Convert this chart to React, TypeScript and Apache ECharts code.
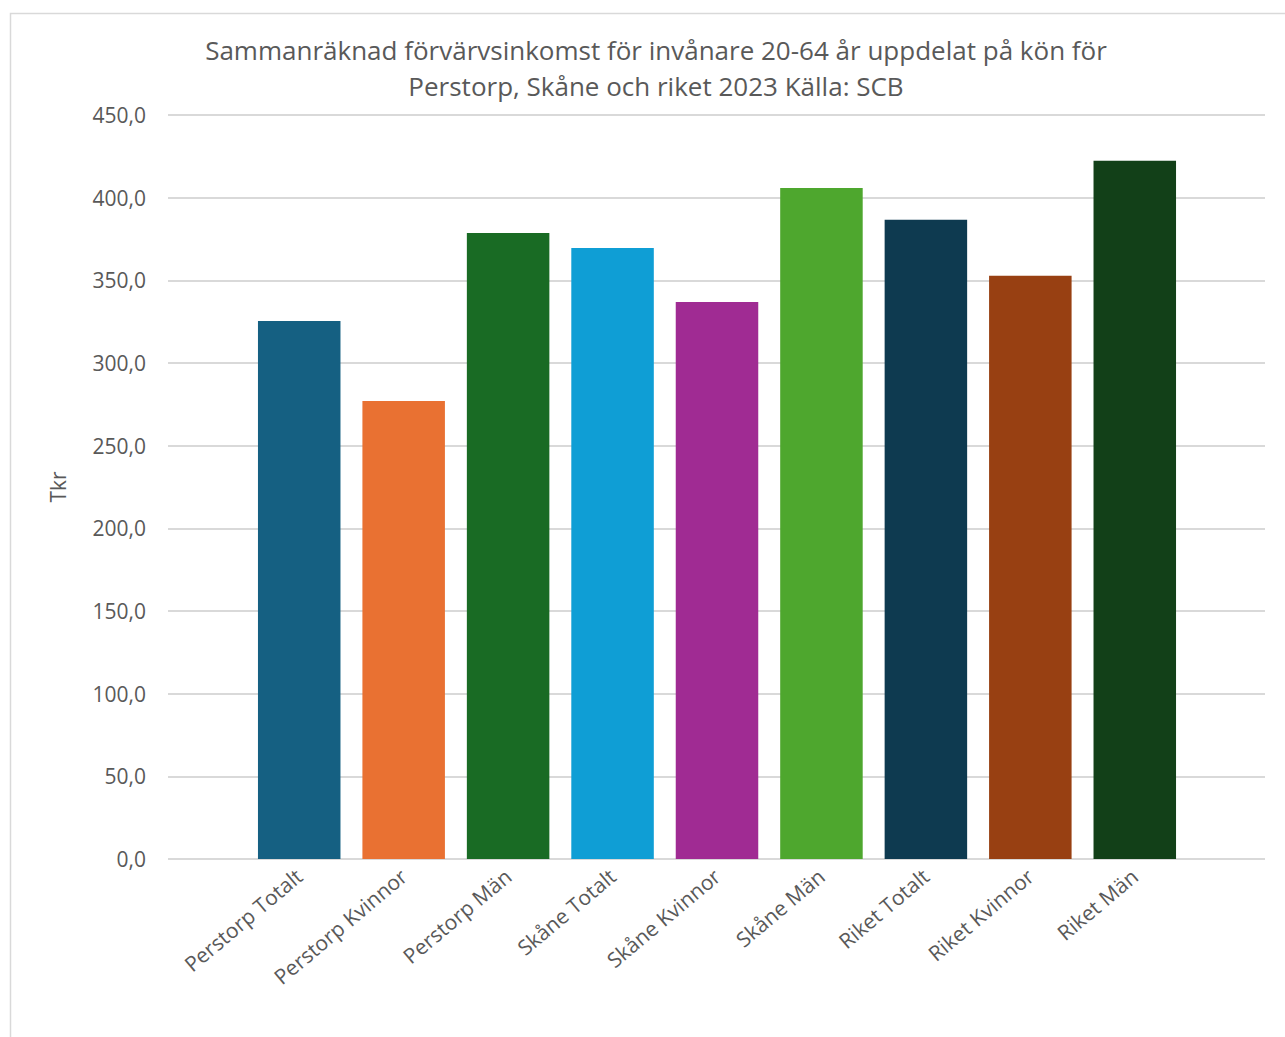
import React, { useEffect, useRef } from "react";
import * as echarts from "echarts";

const categories = [
  "Perstorp Totalt",
  "Perstorp Kvinnor",
  "Perstorp Män",
  "Skåne Totalt",
  "Skåne Kvinnor",
  "Skåne Män",
  "Riket Totalt",
  "Riket Kvinnor",
  "Riket Män",
];
const values = [325.4, 277.0, 378.6, 369.5, 336.9, 405.8, 386.7, 352.8, 422.4];
const colors = [
  "#156082",
  "#E97132",
  "#196B24",
  "#0F9ED5",
  "#A02B93",
  "#4EA72E",
  "#0E3A50",
  "#984012",
  "#124018",
];
const titleText =
  "Sammanräknad förvärvsinkomst för invånare 20-64 år uppdelat på kön för\nPerstorp, Skåne och riket 2023 Källa: SCB";
const yAxisName = "Tkr";

const FONT = "'Open Sans', 'Noto Sans', sans-serif";

export default function App() {
  const ref = useRef<HTMLDivElement>(null);
  useEffect(() => {
    if (!ref.current) return;
    const chart = echarts.init(ref.current, undefined, { renderer: "svg" });
    chart.setOption({
      animation: false,
      backgroundColor: "#ffffff",
      title: {
        text: titleText,
        left: 651,
        top: 27,
        textAlign: "center",
        textStyle: {
          fontFamily: FONT,
          fontSize: 26,
          fontWeight: "normal",
          color: "#595959",
          lineHeight: 36,
        },
      },
      graphic: [
        {
          type: "rect",
          shape: { x: 10.5, y: 13.5, width: 1300, height: 1100 },
          style: { fill: "none", stroke: "#d9d9d9", lineWidth: 1.5 },
          silent: true,
        },
      ],
      grid: [
        { left: 168, right: 20, top: 115, bottom: 178, containLabel: false },
        { left: 247, right: 98, top: 115, bottom: 178, containLabel: false },
      ],
      xAxis: [
        {
          type: "value",
          gridIndex: 0,
          min: 0,
          max: 1,
          show: false,
        },
        {
          type: "category",
          gridIndex: 1,
          data: categories,
          axisLine: { show: false },
          axisTick: { show: false },
          axisLabel: {
            rotate: 40,
            interval: 0,
            margin: 14,
            fontFamily: FONT,
            fontSize: 21,
            color: "#595959",
          },
        },
      ],
      yAxis: [
        {
          type: "value",
          gridIndex: 0,
          min: 0,
          max: 450,
          interval: 50,
          name: yAxisName,
          nameLocation: "middle",
          nameGap: 100,
          nameRotate: 90,
          nameTextStyle: { fontFamily: FONT, fontSize: 21, color: "#595959" },
          axisLine: { show: false },
          axisTick: { show: false },
          splitLine: { lineStyle: { color: "#d9d9d9", width: 2 } },
          axisLabel: {
            margin: 22,
            fontFamily: FONT,
            fontSize: 21,
            color: "#595959",
            formatter: (v: number) => v.toFixed(1).replace(".", ","),
          },
        },
        {
          type: "value",
          gridIndex: 1,
          min: 0,
          max: 450,
          interval: 50,
          show: false,
          splitLine: { show: false },
        },
      ],
      series: [
        {
          type: "bar",
          xAxisIndex: 1,
          yAxisIndex: 1,
          data: values.map((v, i) => ({ value: v, itemStyle: { color: colors[i] } })),
          barCategoryGap: "21%",
        },
      ],
    });
    return () => chart.dispose();
  }, []);
  return (
    <div
      ref={ref}
      style={{ position: "fixed", left: 0, top: 0, width: 1285, height: 1037 }}
    />
  );
}
